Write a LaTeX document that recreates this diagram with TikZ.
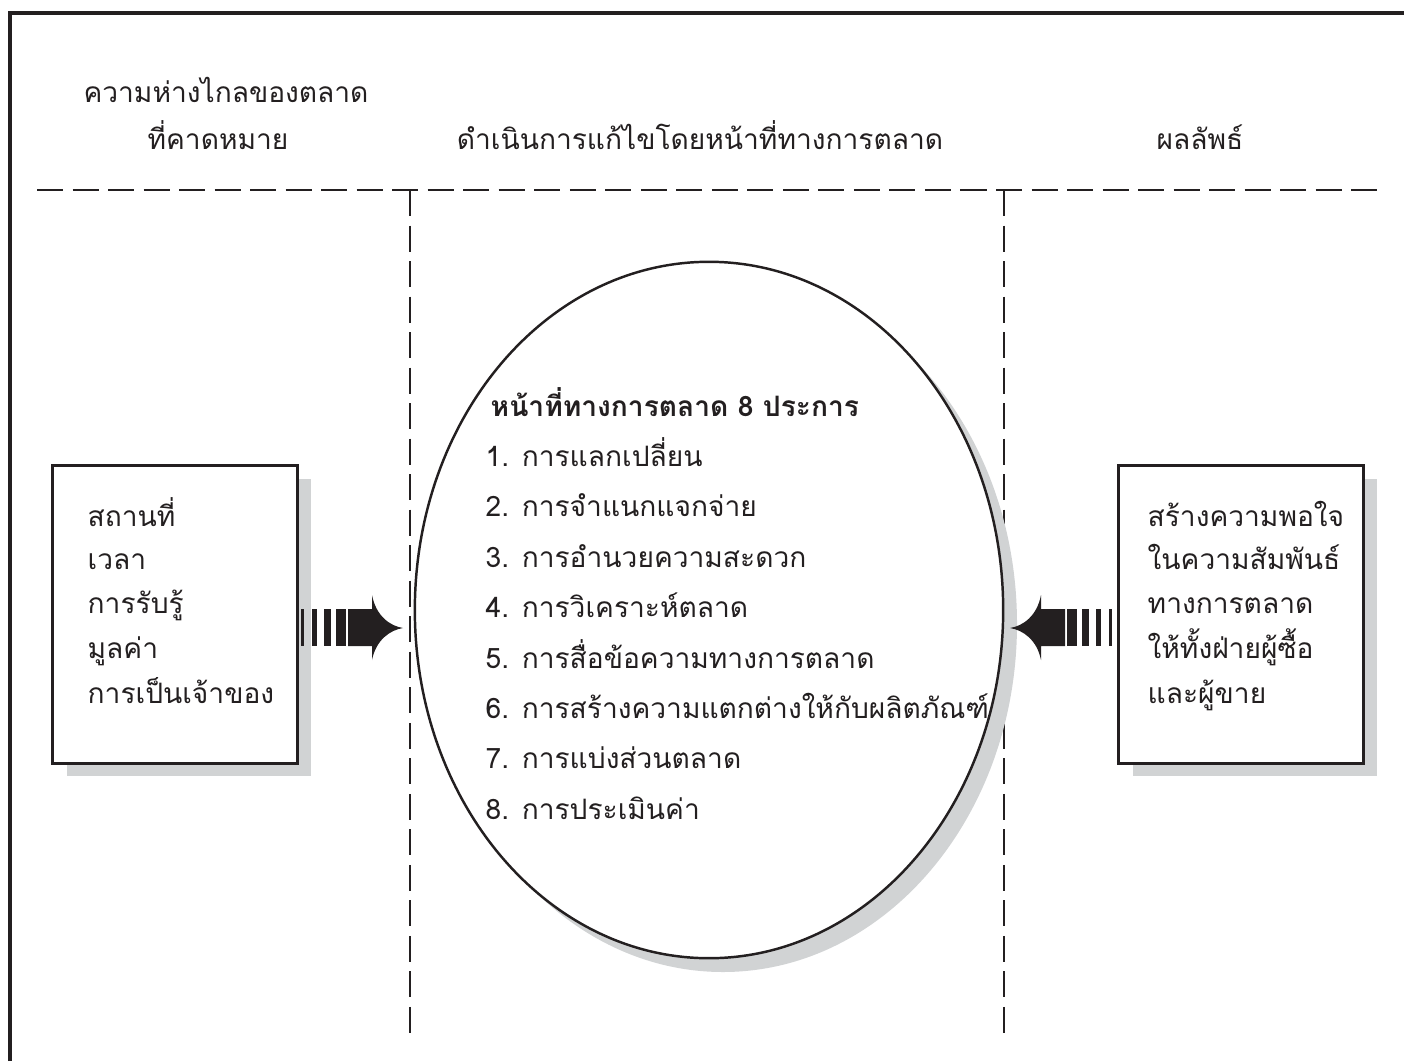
\documentclass[tikz,border=0pt]{standalone}
\usepackage{fontspec}
\newfontfamily\thaifont[Script=Thai]{Loma}
\usetikzlibrary{shapes.geometric}
\definecolor{ink}{HTML}{231F20}
\definecolor{shadowgray}{HTML}{D1D3D4}
\tikzset{
  thtext/.style={font=\thaifont\fontsize{8}{10}\selectfont, text=ink, inner sep=0pt},
  bodytext/.style={thtext, anchor=base west},
  dashline/.style={draw=ink, line width=0.8pt, dash pattern=on 7.4pt off 2.7pt},
  boxstyle/.style={draw=ink, line width=0.85pt, fill=white, rectangle, minimum width=2.44cm, minimum height=2.97cm, inner sep=0pt},
}
\newcommand{\stripedarrow}{%
  \fill[ink] (-102.3,-19) rectangle (-98.7,18);
  \fill[ink] (-91,-19) rectangle (-86,18);
  \fill[ink] (-79,-19) rectangle (-72,18);
  \fill[ink] (-67,-19) rectangle (-57,18);
  \fill[ink] (-55,-19) -- (-31,-19) -- (-31,-33)
     .. controls (-27,-12) and (-13,-2) .. (0,0)
     .. controls (-13,2) and (-27,12) .. (-31,32)
     -- (-31,18) -- (-55,18) -- cycle;
}
\begin{document}
\begin{tikzpicture}[x=0.01cm, y=-0.01cm]
\useasboundingbox (0,0) rectangle (1404,1061);
% outer frame
\draw[ink, line width=1.1pt] (10,1061) -- (10,13) -- (1404,13);
% headers
\node[thtext, anchor=base] (h1a) at (226,103) {ความห่างไกลของตลาด};
\node[thtext, anchor=base] (h1b) at (218,150) {ที่คาดหมาย};
\node[thtext, anchor=base] (h2) at (700,150) {ดำเนินการแก้ไขโดยหน้าที่ทางการตลาด};
\node[thtext, anchor=base] (h3) at (1200,150) {ผลลัพธ์};
% dashed separators
\coordinate (hl) at (37,190);
\coordinate (hr) at (1385,190);
\coordinate (v1t) at (410,190);
\coordinate (v1b) at (410,1037);
\coordinate (v2t) at (1004,190);
\coordinate (v2b) at (1004,1037);
\draw[dashline] (hl) -- (hr);
\draw[dashline] (v1t) -- (v1b);
\draw[dashline] (v2t) -- (v2b);
% ellipse with shadow
\fill[shadowgray] (723,624) ellipse [x radius=294, y radius=348];
\node[draw=ink, line width=0.7pt, fill=white, ellipse, minimum width=5.88cm, minimum height=6.96cm, inner sep=0pt] (ell) at (709,610) {};
\node[thtext, anchor=base west, font=\thaifont\bfseries\fontsize{8}{10}\selectfont] (title) at (490,416) {หน้าที่ทางการตลาด 8 ประการ};
\node[bodytext] (i1) at (485,466.4) {1. การแลกเปลี่ยน};
\node[bodytext] (i2) at (485,516.8) {2. การจำแนกแจกจ่าย};
\node[bodytext] (i3) at (485,567.2) {3. การอำนวยความสะดวก};
\node[bodytext] (i4) at (485,617.6) {4. การวิเคราะห์ตลาด};
\node[bodytext] (i5) at (485,668) {5. การสื่อข้อความทางการตลาด};
\node[bodytext] (i6) at (485,718.4) {6. การสร้างความแตกต่างให้กับผลิตภัณฑ์};
\node[bodytext] (i7) at (485,768.8) {7. การแบ่งส่วนตลาด};
\node[bodytext] (i8) at (485,819.2) {8. การประเมินค่า};
% left box
\fill[shadowgray] (67,479) rectangle (311,776);
\node[boxstyle] (lbox) at (175,614.5) {};
\node[bodytext] (l1) at (87,526) {สถานที่};
\node[bodytext] (l2) at (87,569) {เวลา};
\node[bodytext] (l3) at (87,613) {การรับรู้};
\node[bodytext] (l4) at (87,658) {มูลค่า};
\node[bodytext] (l5) at (87,703) {การเป็นเจ้าของ};
% right box
\fill[shadowgray] (1133,479) rectangle (1377,776);
\node[boxstyle] (rbox) at (1241,614.5) {};
\node[bodytext] (r1) at (1147,526) {สร้างความพอใจ};
\node[bodytext] (r2) at (1147,569) {ในความสัมพันธ์};
\node[bodytext] (r3) at (1147,613) {ทางการตลาด};
\node[bodytext] (r4) at (1147,658) {ให้ทั้งฝ่ายผู้ซื้อ};
\node[bodytext] (r5) at (1147,703) {และผู้ขาย};
% striped arrows
\begin{scope}[shift={(403,628)}]
\stripedarrow
\end{scope}
\begin{scope}[shift={(1010,628)}, xscale=-1]
\stripedarrow
\end{scope}
\end{tikzpicture}
\end{document}
